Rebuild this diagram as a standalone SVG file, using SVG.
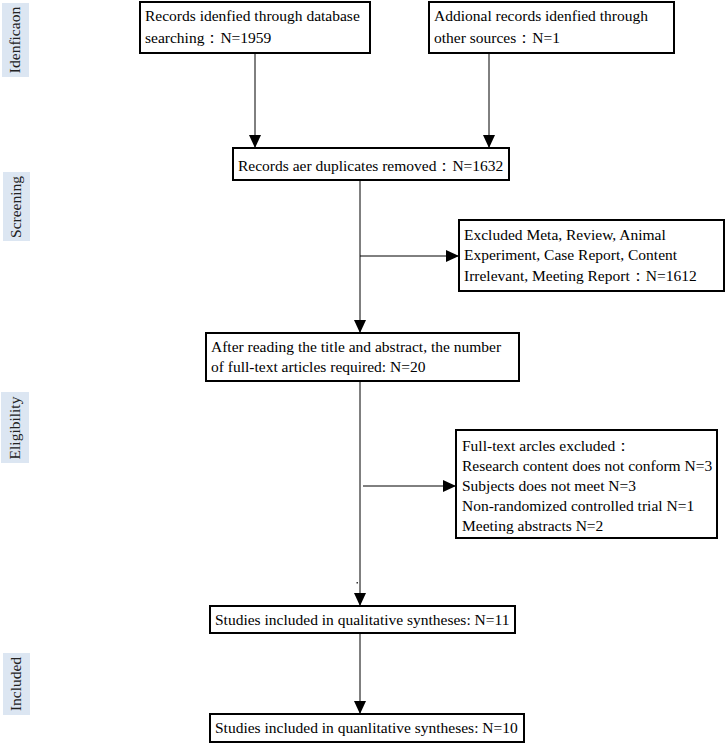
<svg xmlns="http://www.w3.org/2000/svg" width="726" height="745" viewBox="0 0 726 745">
<style>
.box{fill:#fff;stroke:#000;stroke-width:2}
.lab{fill:#dce6f2;stroke:none}
.t{font-family:"Liberation Serif","Times New Roman",serif;font-size:15.5px;fill:#000}
.lt{font-family:"Liberation Serif","Times New Roman",serif;font-size:15.5px;fill:#222;text-anchor:middle}
.c{stroke:#000;stroke-width:1;fill:none}
</style>
<defs>
<marker id="ah" markerUnits="userSpaceOnUse" markerWidth="14" markerHeight="12" refX="13" refY="6" orient="auto">
<path d="M0,0 L13,6 L0,12 Z" fill="#000"/>
</marker>
</defs>
<rect width="726" height="745" fill="#fff"/>
<g id="stage-labels">
<g id="lab-identification"><rect class="lab" x="2" y="3" width="27" height="74"/><text class="lt" transform="translate(20,40) rotate(-90)">Idenficaon</text></g>
<g id="lab-screening"><rect class="lab" x="3" y="172" width="27" height="69"/><text class="lt" transform="translate(21,207) rotate(-90)">Screening</text></g>
<g id="lab-eligibility"><rect class="lab" x="1" y="392" width="28" height="71"/><text class="lt" transform="translate(20,428) rotate(-90)">Eligibility</text></g>
<g id="lab-included"><rect class="lab" x="3" y="653" width="27" height="62"/><text class="lt" transform="translate(21,684) rotate(-90)">Included</text></g>
</g>
<g id="connectors">
<line class="c" x1="255" y1="53" x2="255" y2="148" marker-end="url(#ah)"/>
<line class="c" x1="489" y1="53" x2="489" y2="148" marker-end="url(#ah)"/>
<line class="c" x1="360" y1="180" x2="360" y2="333" marker-end="url(#ah)"/>
<line class="c" x1="360" y1="256" x2="459" y2="256" marker-end="url(#ah)"/>
<line class="c" x1="360" y1="381" x2="360" y2="606" marker-end="url(#ah)"/>
<line class="c" x1="363" y1="486" x2="456" y2="486" marker-end="url(#ah)"/>
<line class="c" x1="360" y1="633" x2="360" y2="714" marker-end="url(#ah)"/>
<rect x="356.5" y="582" width="1.5" height="1.5" fill="#333"/>
</g>
<g id="n-db">
<rect class="box" x="140" y="2" width="230" height="51"/>
<text class="t" x="145" y="21">Records idenfied through database</text>
<text class="t" x="145" y="43">searching：N=1959</text>
</g>
<g id="n-other">
<rect class="box" x="429" y="2" width="245" height="51"/>
<text class="t" x="434" y="21">Addional records idenfied through</text>
<text class="t" x="434" y="43">other sources：N=1</text>
</g>
<g id="n-dup">
<rect class="box" x="233" y="148" width="276" height="32"/>
<text class="t" x="238" y="171">Records aer duplicates removed：N=1632</text>
</g>
<g id="n-excl1">
<rect class="box" x="459" y="220" width="265" height="71"/>
<text class="t" x="464" y="240">Excluded Meta, Review, Animal</text>
<text class="t" x="464" y="260">Experiment, Case Report, Content</text>
<text class="t" x="464" y="281">Irrelevant, Meeting Report：N=1612</text>
</g>
<g id="n-full">
<rect class="box" x="206" y="333" width="313" height="48"/>
<text class="t" x="211" y="352">After reading the title and abstract, the number</text>
<text class="t" x="211" y="372">of full-text articles required: N=20</text>
</g>
<g id="n-excl2">
<rect class="box" x="456" y="430" width="261" height="108"/>
<text class="t" x="462" y="451">Full-text arcles excluded：</text>
<text class="t" x="462" y="471">Research content does not conform N=3</text>
<text class="t" x="462" y="491">Subjects does not meet N=3</text>
<text class="t" x="462" y="511">Non-randomized controlled trial N=1</text>
<text class="t" x="462" y="531">Meeting abstracts N=2</text>
</g>
<g id="n-qual">
<rect class="box" x="210" y="606" width="305" height="27"/>
<text class="t" x="215" y="625">Studies included in qualitative syntheses: N=11</text>
</g>
<g id="n-quan">
<rect class="box" x="210" y="714" width="314" height="28"/>
<text class="t" x="215" y="733">Studies included in quanlitative syntheses: N=10</text>
</g>
</svg>
